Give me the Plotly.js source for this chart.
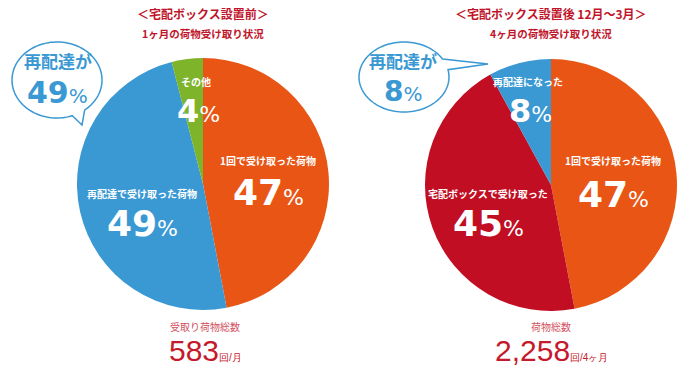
<!DOCTYPE html>
<html><head><meta charset="utf-8">
<script src="https://cdn.plot.ly/plotly-3.0.1.min.js"></script>
<style>html,body{margin:0;padding:0;background:#fff}#chart{width:700px;height:372px}</style>
</head><body><div id="chart"></div>
<script>
// ---- data ----
var beforeLabels = ['1回で受け取った荷物', '再配達で受け取った荷物', 'その他'];
var beforeValues = [47, 49, 4];
var beforeColors = ['#E95514', '#3A98D3', '#7DB42A'];
var afterLabels = ['1回で受け取った荷物', '宅配ボックスで受け取った', '再配達になった'];
var afterValues = [47, 45, 8];
var afterColors = ['#E95514', '#C10E23', '#3A98D3'];
var beforeTitle = '＜宅配ボックス設置前＞';
var beforeSub = '1ヶ月の荷物受け取り状況';
var afterTitle = '＜宅配ボックス設置後 12月〜3月＞';
var afterSub = '4ヶ月の荷物受け取り状況';
var beforeTotalLabel = '受取り荷物総数';
var beforeTotal = '583';
var beforeUnit = '回/月';
var afterTotalLabel = '荷物総数';
var afterTotal = '2,258';
var afterUnit = '回/4ヶ月';
var bubbleText = '再配達が';
var beforeRedelivery = 49;
var afterRedelivery = 8;

// ---- helpers (pixel -> paper) ----
var W = 700, H = 372;
function px(x){ return x / W; }
function py(y){ return 1 - y / H; }
var JP = '"Noto Sans CJK JP", "Noto Sans", sans-serif';
var NUM = '"DejaVu Sans", "Noto Sans CJK JP", sans-serif';
var THIN = '"Liberation Sans", Arial, sans-serif';
var RED = '#C0142A';
var BLUE = '#3A98D3';

function pieTrace(labels, values, colors, cx, cy, r){
  return {
    type: 'pie', labels: labels, values: values, sort: false,
    direction: 'clockwise', rotation: 0,
    marker: {colors: colors, line: {width: 0}},
    textinfo: 'none', hoverinfo: 'none', showlegend: false,
    domain: {x: [px(cx - r), px(cx + r)], y: [py(cy + r), py(cy - r)]}
  };
}

var data = [
  pieTrace(beforeLabels, beforeValues, beforeColors, 203, 184, 126),
  pieTrace(afterLabels, afterValues, afterColors, 551, 185, 126)
];

var ann = [];
function A(x, y, text, size, color, family){
  ann.push({xref: 'paper', yref: 'paper', x: px(x), y: py(y), text: text, showarrow: false,
    xanchor: 'center', yanchor: 'middle', font: {size: size, color: color, family: family}});
}
function pct(v, small){
  return '<b>' + v + '</b><span style="font-size:' + small + 'px">%</span>';
}

// titles
A(203, 14, '<b>' + beforeTitle + '</b>', 12, RED, JP);
A(203, 33, '<b>' + beforeSub + '</b>', 10.5, RED, JP);
A(551, 14, '<b>' + afterTitle + '</b>', 12, RED, JP);
A(551, 33, '<b>' + afterSub + '</b>', 10.5, RED, JP);

// slice labels (before)
A(196, 81, '<b>' + beforeLabels[2] + '</b>', 10, '#fff', JP);
A(198, 111, pct(beforeValues[2], 22), 32, '#fff', NUM);
A(268, 160, '<b>' + beforeLabels[0] + '</b>', 10, '#fff', JP);
A(268, 192, pct(beforeValues[0], 22), 36, '#fff', NUM);
A(142, 193, '<b>' + beforeLabels[1] + '</b>', 10, '#fff', JP);
A(142, 223, pct(beforeValues[1], 22), 36, '#fff', NUM);

// slice labels (after)
A(528, 81, '<b>' + afterLabels[2] + '</b>', 10, '#fff', JP);
A(530, 111, pct(afterValues[2], 22), 32, '#fff', NUM);
A(613, 160, '<b>' + afterLabels[0] + '</b>', 10, '#fff', JP);
A(613, 194, pct(afterValues[0], 22), 36, '#fff', NUM);
A(488, 193, '<b>' + afterLabels[1] + '</b>', 10, '#fff', JP);
A(488, 223, pct(afterValues[1], 22), 36, '#fff', NUM);

// bubbles text
A(58, 61, '<b>' + bubbleText + '</b>', 17, BLUE, JP);
A(58, 92, pct(beforeRedelivery, 20), 30, BLUE, NUM);
A(403, 61, '<b>' + bubbleText + '</b>', 17, BLUE, JP);
A(403, 91, pct(afterRedelivery, 20), 28, BLUE, NUM);

// totals
A(205, 326, beforeTotalLabel, 10, '#D2505E', JP);
A(205, 350, beforeTotal + '<span style="font-size:10px">' + beforeUnit + '</span>', 30, '#C41A2C', THIN);
A(551, 326, afterTotalLabel, 10, '#D2505E', JP);
A(551, 350, afterTotal + '<span style="font-size:10px">' + afterUnit + '</span>', 30, '#C41A2C', THIN);

// speech bubbles as paths
function bubblePath(cx, cy, rx, ry, a1, a2, tx, ty){
  var pts = [];
  function pt(a){ var t = a * Math.PI / 180; return [cx + rx * Math.cos(t), cy + ry * Math.sin(t)]; }
  pts.push(pt(a1));
  pts.push([tx, ty]);
  var start = a2, end = a1 + (a1 > a2 ? -360 : 360);
  var step = (end > start ? 3 : -3);
  for (var a = start; (step > 0 ? a < end : a > end); a += step) pts.push(pt(a));
  var s = 'M' + px(pts[0][0]) + ',' + py(pts[0][1]);
  for (var i = 1; i < pts.length; i++) s += ' L' + px(pts[i][0]) + ',' + py(pts[i][1]);
  return s + ' Z';
}
var shapes = [
  {type: 'path', xref: 'paper', yref: 'paper', path: bubblePath(57, 80, 45, 38, 70, 52, 82, 125),
   fillcolor: '#fff', line: {color: BLUE, width: 1.5}},
  {type: 'path', xref: 'paper', yref: 'paper', path: bubblePath(404, 77, 45, 35, -31, -12, 488, 64),
   fillcolor: '#fff', line: {color: BLUE, width: 1.5}}
];

var layout = {
  width: W, height: H, margin: {l: 0, r: 0, t: 0, b: 0},
  paper_bgcolor: '#fff', plot_bgcolor: '#fff',
  showlegend: false, annotations: ann, shapes: shapes
};
Plotly.newPlot('chart', data, layout, {displayModeBar: false, staticPlot: true});
</script>
</body></html>
